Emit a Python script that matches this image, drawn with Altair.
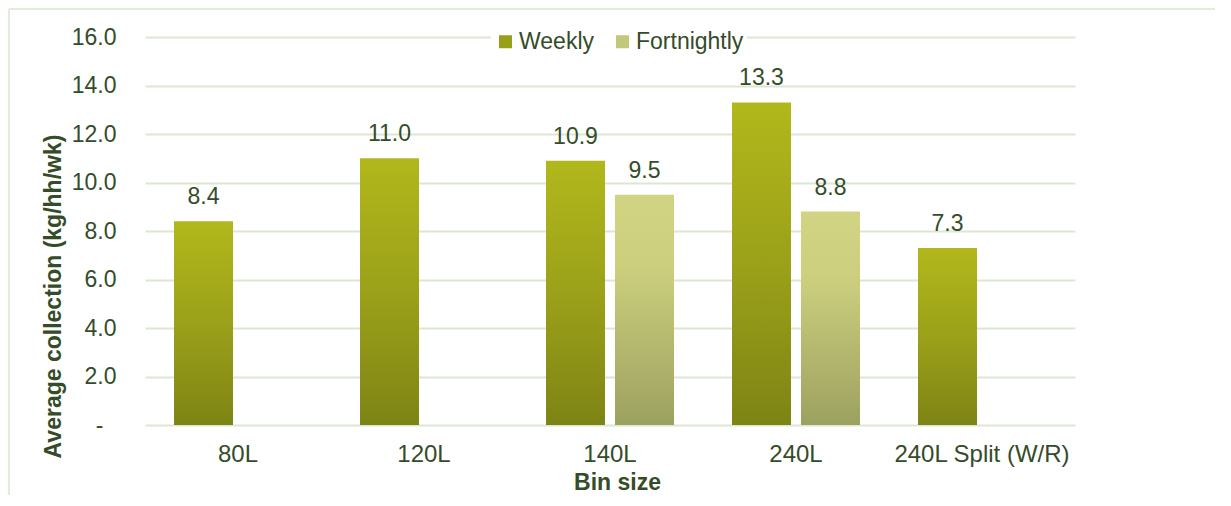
import altair as alt
import pandas as pd

# ---- data ----
bins = ["80L", "120L", "140L", "240L", "240L Split (W/R)"]
series_names = ["Weekly", "Fortnightly"]
bar_bins = ["80L", "120L", "140L", "140L", "240L", "240L", "240L Split (W/R)"]
bar_series = ["Weekly", "Weekly", "Weekly", "Fortnightly", "Weekly", "Fortnightly", "Weekly"]
bar_values = [8.4, 11.0, 10.9, 9.5, 13.3, 8.8, 7.3]
y_ticks = [0, 2, 4, 6, 8, 10, 12, 14, 16]

df = pd.DataFrame({"bin": bar_bins, "series": bar_series, "value": bar_values})

TEXT = "#344c28"
FONT = "Liberation Sans"
GRID = "#dbe8d1"
BORDER = "#e0edd8"

weekly_grad = {
    "gradient": "linear", "x1": 0, "y1": 0, "x2": 0, "y2": 1,
    "stops": [{"offset": 0, "color": "#b1b81b"},
              {"offset": 0.5, "color": "#9ba119"},
              {"offset": 1, "color": "#7e8414"}],
}
fort_grad = {
    "gradient": "linear", "x1": 0, "y1": 0, "x2": 0, "y2": 1,
    "stops": [{"offset": 0, "color": "#d1d483"},
              {"offset": 0.3, "color": "#ccd07e"},
              {"offset": 1, "color": "#9da160"}],
}

x_enc = alt.X(
    "bin:N",
    sort=bins,
    scale=alt.Scale(domain=bins, paddingInner=0, paddingOuter=0),
    axis=alt.Axis(
        title="Bin size", labelAngle=0, labelFontSize=24, labelColor=TEXT,
        labelFont=FONT, labelBaseline="alphabetic", labelPadding=36,
        domain=False, ticks=False, grid=False,
        titleFontSize=23, titleFontWeight="bold", titleColor=TEXT, titleFont=FONT,
        titleX=472, titleY=64, titleBaseline="alphabetic", titleAlign="center",
    ),
)
xoff_enc = alt.XOffset(
    "series:N",
    scale=alt.Scale(domain=series_names, paddingInner=0.145, paddingOuter=0.42),
)
y_enc = alt.Y(
    "value:Q",
    scale=alt.Scale(domain=[0, 16], nice=False),
    axis=alt.Axis(
        values=y_ticks,
        labelExpr="datum.value == 0 ? '-' : format(datum.value, '.1f')",
        grid=True, gridColor=GRID, gridWidth=2,
        domain=False, ticks=False,
        labelPadding={"condition": {"test": "datum.value == 0", "value": 42}, "value": 29},
        labelFontSize=23, labelColor=TEXT, labelFont=FONT,
        title="Average collection (kg/hh/wk)",
        titleFontSize=23, titleFontWeight="bold", titleColor=TEXT, titleFont=FONT,
        titleX=-92, titleY=259, titleAngle=270, titleAlign="center",
        titleBaseline="middle",
    ),
)

base = alt.Chart(df)

weekly_bars = base.transform_filter(alt.datum.series == "Weekly").mark_bar(
    fill=weekly_grad
).encode(x=x_enc, xOffset=xoff_enc, y=y_enc)

fort_bars = base.transform_filter(alt.datum.series == "Fortnightly").mark_bar(
    fill=fort_grad
).encode(x=x_enc, xOffset=xoff_enc, y=y_enc)

labels = base.mark_text(
    baseline="alphabetic", dy=-17, fontSize=23, color=TEXT, font=FONT
).encode(
    x=x_enc, xOffset=xoff_enc, y=y_enc,
    text=alt.Text("value:Q", format=".1f"),
)

legend_layer = base.mark_point(opacity=0, filled=True, shape="square").encode(
    color=alt.Color(
        "series:N",
        scale=alt.Scale(domain=series_names, range=["#98a018", "#c3c77a"]),
        legend=alt.Legend(
            title=None, orient="none", direction="horizontal",
            legendX=346, legendY=-10, padding=3, fillColor="white",
            symbolType="square", symbolSize=169, symbolOpacity=1,
            symbolStrokeWidth=0, labelFontSize=23, labelColor=TEXT,
            labelFont=FONT, labelOffset=2, columnPadding=17,
        ),
    )
)

frame_df = pd.DataFrame({"k": [0]})
left_border = alt.Chart(frame_df).mark_rule(color=BORDER, strokeWidth=2).encode(
    x=alt.value(-136), y=alt.value(-28), y2=alt.value(458)
)
top_border = alt.Chart(frame_df).mark_rule(color=BORDER, strokeWidth=2).encode(
    x=alt.value(-136), x2=alt.value(1070), y=alt.value(-28)
)

chart = alt.layer(
    weekly_bars, fort_bars, labels, legend_layer, left_border, top_border
).properties(
    width=930, height=388,
    padding={"left": 137, "top": 29, "right": 140, "bottom": 70},
    autosize=alt.AutoSizeParams(type="none"),
).configure(
    background="white",
    view=alt.ViewConfig(strokeWidth=0),
)

chart.save("out.html", embed_options={"renderer": "svg", "actions": False})
